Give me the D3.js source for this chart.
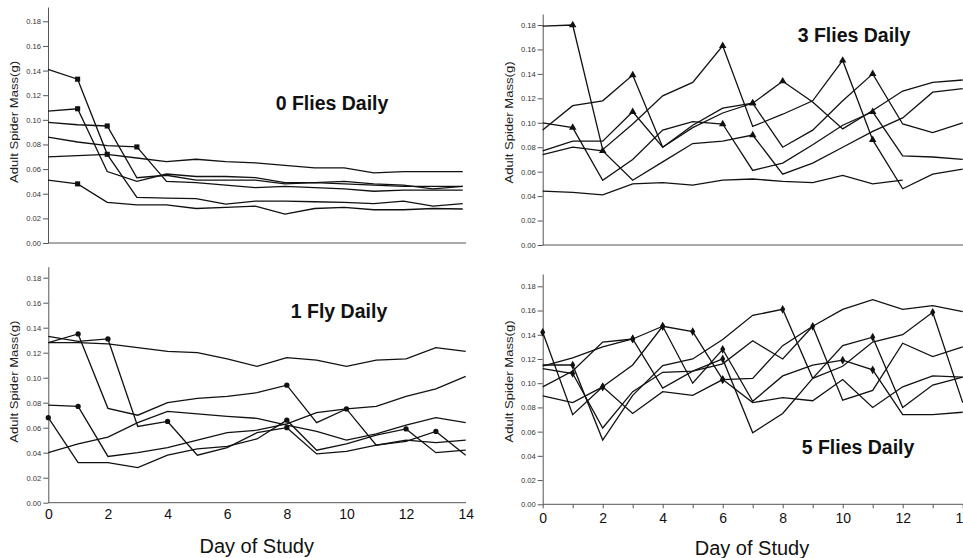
<!DOCTYPE html>
<html><head><meta charset="utf-8">
<script src="https://cdn.jsdelivr.net/npm/d3@7/dist/d3.min.js"></script>
<style>
html,body{margin:0;padding:0;background:#fff;}
svg{display:block;font-family:"Liberation Sans",Arial,Helvetica,sans-serif;}
</style></head>
<body>
<svg id="chart" width="963" height="558"></svg>
<script>
// ---------------- data ----------------
const days = [0,1,2,3,4,5,6,7,8,9,10,11,12,13,14];
const yTicks = [0,0.02,0.04,0.06,0.08,0.10,0.12,0.14,0.16,0.18];
const xTickLabels = [0,2,4,6,8,10,12,14];
const panelTitles = ["0 Flies Daily","3 Flies Daily","1 Fly Daily","5 Flies Daily"];
const yAxisTitle = "Adult Spider Mass(g)";
const xAxisTitle = "Day of Study";

// 0 flies daily (mass per day; marker days per spider)
const flies0 = [
  [0.141,0.133,0.072,0.037,0.0365,0.036,0.0316,0.034,0.034,0.0335,0.033,0.032,0.034,0.030,0.032],
  [0.107,0.109,0.058,0.050,0.056,0.054,0.054,0.053,0.049,0.049,0.050,0.048,0.047,0.044,0.046],
  [0.098,0.096,0.095,0.053,0.055,0.051,0.051,0.051,0.048,0.049,0.048,0.047,0.046,0.046,0.046],
  [0.086,0.082,0.079,0.078,0.050,0.049,0.047,0.045,0.046,0.045,0.044,0.042,0.043,0.043,0.043],
  [0.070,0.071,0.072,0.069,0.066,0.068,0.066,0.065,0.063,0.061,0.061,0.057,0.058,0.058,0.058],
  [0.051,0.048,0.033,0.031,0.031,0.028,0.029,0.030,0.0235,0.028,0.029,0.027,0.027,0.028,0.0276]
];
const flies0Markers = [[1,2],[1],[2],[3],[],[1]];

// 3 flies daily
const flies3 = [
  [0.179,0.180,0.078,0.099,0.122,0.133,0.163,0.097,0.107,0.118,0.151,0.086,0.046,0.058,0.062],
  [0.094,0.114,0.118,0.139,0.080,0.098,0.112,0.116,0.134,0.117,0.095,0.110,0.126,0.133,0.135],
  [0.100,0.096,0.053,0.070,0.094,0.101,0.099,0.061,0.067,0.082,0.098,0.109,0.073,0.072,0.070],
  [0.077,0.085,0.085,0.109,0.080,0.096,0.108,0.116,0.080,0.094,0.118,0.140,0.099,0.092,0.100],
  [0.074,0.080,0.077,0.053,0.068,0.083,0.085,0.090,0.058,0.067,0.080,0.093,0.104,0.125,0.128],
  [0.044,0.043,0.041,0.050,0.051,0.049,0.053,0.054,0.052,0.051,0.057,0.050,0.053,null,null]
];
const flies3Markers = [[1,6,10,11],[3,7,8],[1,6,11],[3,7,11],[2,7],[]];

// 1 fly daily
const flies1 = [
  [0.128,0.128,0.127,0.124,0.121,0.120,0.115,0.109,0.116,0.114,0.109,0.114,0.115,0.124,0.121],
  [0.128,0.135,0.0755,0.070,0.080,0.0835,0.085,0.088,0.094,0.064,0.075,0.046,0.050,0.048,0.050],
  [0.133,0.129,0.131,0.061,0.065,0.038,0.044,0.056,0.060,0.039,0.041,0.046,0.049,0.057,0.038],
  [0.078,0.077,0.037,0.040,0.044,0.050,0.056,0.058,0.063,0.072,0.075,0.077,0.085,0.091,0.101],
  [0.068,0.032,0.032,0.028,0.038,0.043,0.045,0.051,0.066,0.042,0.047,0.054,0.059,0.040,0.042],
  [0.040,0.047,0.0525,0.064,0.073,0.071,0.069,0.0675,0.062,0.057,0.050,0.055,0.062,0.068,0.064]
];
const flies1Markers = [[],[1,8,10],[2,4,8,13],[1],[0,8,12],[]];

// 5 flies daily
const flies5 = [
  [0.142,0.074,0.097,0.115,0.147,0.1426,0.103,0.104,0.131,0.147,0.161,0.169,0.161,0.164,0.159],
  [0.114,0.121,0.130,0.1365,0.147,0.100,0.128,0.085,0.106,0.115,0.119,0.111,0.074,0.074,0.076],
  [0.115,0.115,0.053,0.090,0.1145,0.120,0.136,0.156,0.161,0.104,0.114,0.134,0.140,0.1585,0.084],
  [0.112,0.108,0.063,0.093,0.109,0.110,0.120,0.059,0.075,0.104,0.131,0.138,0.080,0.0985,0.105],
  [0.097,0.110,0.134,0.1365,0.096,0.110,0.116,0.135,0.120,0.147,0.086,0.094,0.133,0.122,0.130],
  [0.0895,0.084,0.097,0.075,0.093,0.090,0.103,0.084,0.088,0.0855,0.103,0.080,0.097,0.106,0.105]
];
const flies5Markers = [[0,2,4,5,6],[3,4,6,10,11],[1,8,13],[1,6,11],[3,9],[2,6]];

// ---------------- layout ----------------
const svg = d3.select("#chart");
const ink = "#111";
const axisInk = "#555";

const panels = [
  {series:flies0, markers:flies0Markers, symbol:d3.symbolSquare, size:26, title:panelTitles[0],
   left:48, right:462.7, axisEnd:466, y0:243, y18:21.3, top:7,
   titleX:332, titleY:110, ylabX:15.5, ylabY:122, bottomAxis:false, minorTicks:false},
  {series:flies3, markers:flies3Markers, symbol:d3.symbolTriangle, size:24, title:panelTitles[1],
   left:542.7, right:962.7, axisEnd:963, y0:245, y18:25, top:14,
   titleX:854, titleY:41.5, ylabX:510, ylabY:122.5, bottomAxis:false, minorTicks:false},
  {series:flies1, markers:flies1Markers, symbol:d3.symbolCircle, size:22, title:panelTitles[2],
   left:48.3, right:465.7, axisEnd:466, y0:502.7, y18:277.7, top:266.7,
   titleX:339, titleY:318, ylabX:15.7, ylabY:381.7, bottomAxis:true, minorTicks:false,
   xlabY:519.5, xTitleX:256.7, xTitleY:553},
  {series:flies5, markers:flies5Markers, symbol:d3.symbolDiamond, size:22, title:panelTitles[3],
   left:542.7, right:962.7, axisEnd:963, y0:504.3, y18:286.3, top:274,
   titleX:858, titleY:454, ylabX:510, ylabY:381.5, bottomAxis:true, minorTicks:true,
   xlabY:523.5, xTitleX:752, xTitleY:555}
];

panels.forEach(p => {
  const g = svg.append("g");
  const topVal = 0.18 * (p.y0 - p.top) / (p.y0 - p.y18);
  const x = d3.scaleLinear().domain([0,14]).range([p.left, p.right]);
  const y = d3.scaleLinear().domain([0, topVal]).range([p.y0, p.top]);

  // y axis
  const ya = g.append("g").attr("transform", `translate(${p.left},0)`)
    .call(d3.axisLeft(y).tickValues(yTicks).tickFormat(d3.format(".2f"))
      .tickSize(5).tickSizeOuter(0).tickPadding(2));
  ya.select(".domain").attr("stroke", axisInk).attr("stroke-width", 1);
  ya.selectAll(".tick line").attr("stroke", axisInk);
  ya.selectAll(".tick text").attr("font-size", "7.6px").attr("fill", "#333")
    .attr("font-family", '"Liberation Sans",Arial,sans-serif');

  // x axis line
  g.append("line").attr("x1", p.left).attr("x2", p.axisEnd)
    .attr("y1", p.y0).attr("y2", p.y0).attr("stroke", axisInk).attr("stroke-width", 1);

  if (p.bottomAxis) {
    const xa = g.append("g").attr("transform", `translate(0,${p.y0})`)
      .call(d3.axisBottom(x).tickValues(p.minorTicks ? days : xTickLabels)
        .tickFormat(d => xTickLabels.includes(d) ? String(d) : "")
        .tickSize(p.minorTicks ? 4 : 0).tickSizeOuter(0).tickPadding(0));
    xa.select(".domain").remove();
    xa.selectAll(".tick line").attr("stroke", axisInk);
    xa.selectAll(".tick text").attr("font-size", "14px").attr("fill", "#111")
      .attr("font-family", '"Liberation Sans",Arial,sans-serif')
      .attr("dy", null).attr("y", p.xlabY - p.y0);
    g.append("text").attr("x", p.xTitleX).attr("y", p.xTitleY)
      .attr("text-anchor", "middle").attr("font-size", "20px").attr("fill", "#111")
      .text(xAxisTitle);
  }

  // y axis title
  g.append("text").attr("transform", `translate(${p.ylabX},${p.ylabY}) rotate(-90)`)
    .attr("text-anchor", "middle").attr("dominant-baseline", "middle")
    .attr("font-size", "10.5px").attr("fill", "#222")
    .attr("textLength", 122).attr("lengthAdjust", "spacingAndGlyphs")
    .text(yAxisTitle);

  // lines
  const line = d3.line().defined(d => d != null)
    .x((d,i) => x(days[i])).y(d => y(d));
  g.append("g").selectAll("path").data(p.series).join("path")
    .attr("d", line).attr("fill", "none").attr("stroke", ink)
    .attr("stroke-width", 1.3).attr("stroke-linejoin", "miter");

  // markers
  const pts = [];
  p.series.forEach((s, si) => p.markers[si].forEach(dd => pts.push([days[dd], s[dd]])));
  g.append("g").selectAll("path").data(pts).join("path")
    .attr("transform", d => `translate(${x(d[0])},${y(d[1])})`)
    .attr("d", d3.symbol().type(p.symbol).size(p.size))
    .attr("fill", ink);

  // title
  g.append("text").attr("x", p.titleX).attr("y", p.titleY)
    .attr("text-anchor", "middle").attr("font-size", "19.5px").attr("font-weight", "bold")
    .attr("fill", "#111").text(p.title);
});
</script>
</body></html>
